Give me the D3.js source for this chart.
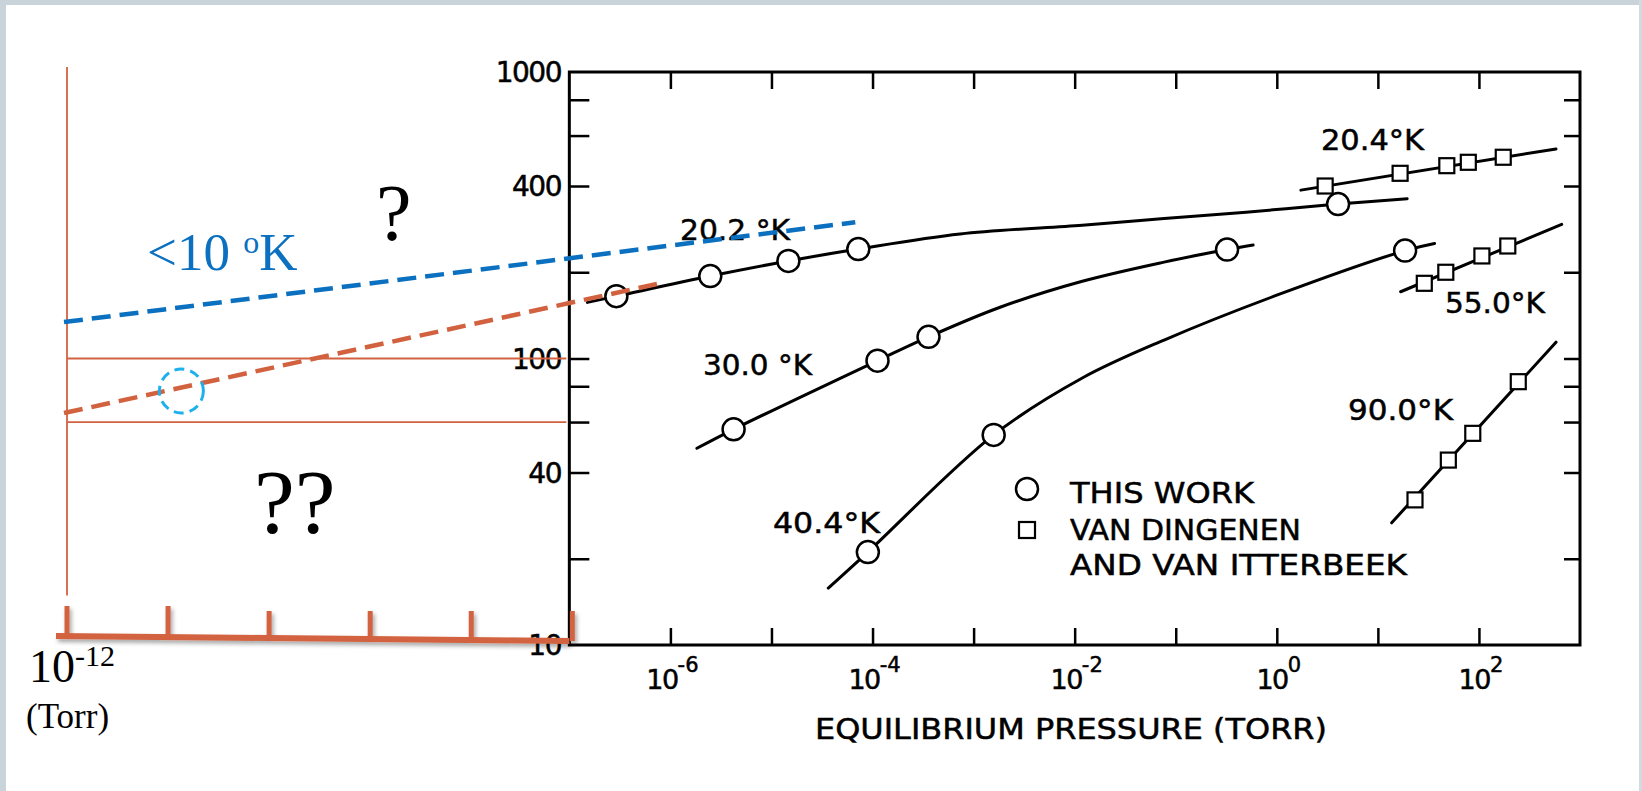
<!DOCTYPE html>
<html>
<head>
<meta charset="utf-8">
<script src="https://cdn.jsdelivr.net/npm/d3@7"></script>
<style>
body { margin: 0; background: #fff; }
svg { display: block; }
</style>
</head>
<body>
<svg id="chart"></svg>
<script>
// ---- data (pressure in torr, y value on the log axis) ----
var xTicks = [1e-6, 1e-5, 1e-4, 1e-3, 1e-2, 1e-1, 1, 10, 100];
var xLabelExp = [-6, -4, -2, 0, 2];
var yTicks = [20, 40, 60, 80, 100, 200, 400, 600, 800];
var yLabels = [1000, 400, 100, 40, 10];
var extTicks = [1e-12, 1e-11, 1e-10, 1e-9, 1e-8, 1e-7];

// 20.2 K, this work
var p202 = [1.51e-7, 2.92e-7, 2.48e-6, 1.47e-5, 7.23e-5, 7.36e-4, 1.19e-2, 7.67e-2, 0.497, 4.04, 19.5];
var v202 = [157, 165, 194, 219, 241, 272, 292, 308, 324, 346, 361];
var p202pts = [2.92e-7, 2.48e-6, 1.47e-5, 7.23e-5, 4.04];
var v202pts = [165, 194, 219, 241, 346];

// 30.0 K, this work
var p300 = [1.83e-6, 4.22e-6, 1.12e-4, 3.58e-4, 1.83e-3, 1.19e-2, 7.67e-2, 0.322, 0.583];
var v300 = [48.6, 56.6, 98.3, 119, 151, 186, 217, 240, 249];
var p300pts = [4.22e-6, 1.12e-4, 3.58e-4, 0.322];
var v300pts = [56.6, 98.3, 119, 240];

// 40.4 K, this work
var p404 = [3.65e-5, 8.99e-5, 1.58e-3, 1.19e-2, 7.67e-2, 1.08, 18.6, 36.4];
var v404 = [15.8, 21.1, 54.1, 85.5, 116, 168, 238, 252];
var p404pts = [8.99e-5, 1.58e-3, 18.6];
var v404pts = [21.1, 54.1, 238];

// Van Dingenen and Van Itterbeek
var p204 = [1.73, 579];
var v204 = [387, 539];
var p204pts = [3.01, 16.6, 48.1, 78.5, 174];
var v204pts = [400, 443, 471, 484, 504];

var p550 = [16.8, 659];
var v550 = [171, 294];
var p550pts = [28.8, 47.0, 107, 193];
var v550pts = [183, 200, 228, 247];

var p900 = [13.7, 579];
var v900 = [26.7, 114];
var p900pts = [23.3, 49.8, 86.9, 245];
var v900pts = [32.1, 44.2, 54.8, 83.0];

// annotations drawn over the scan
var blueDashP = [1e-12, 6.75e-5];
var blueDashV = [134, 299];
var redDashP = [1e-12, 7.36e-7];
var redDashV = [64.5, 182];
var bandV = [100, 60];
var noteP = 1.45e-11, noteV = 77;

var W = 1642, H = 791;
var orange = "#d2623f", blue = "#0a70bf", lightBlue = "#1cb0ec";
var scanFont = "'DejaVu Sans', sans-serif";
var serif = "'Liberation Serif', 'Times New Roman', serif";

var svg = d3.select("#chart").attr("width", W).attr("height", H);
svg.append("rect").attr("width", W).attr("height", H).attr("fill", "#fff");

var defs = svg.append("defs");
var f = defs.append("filter").attr("id", "shadow")
    .attr("x", "-5%").attr("y", "-50%").attr("width", "110%").attr("height", "200%");
f.append("feDropShadow").attr("dx", 2).attr("dy", 3).attr("stdDeviation", 2)
    .attr("flood-color", "#000").attr("flood-opacity", 0.35);

// slide frame
svg.append("rect").attr("x", 0).attr("y", 0).attr("width", W).attr("height", 5).attr("fill", "#c9d3da");
svg.append("rect").attr("x", 0).attr("y", 0).attr("width", 6).attr("height", H).attr("fill", "#c9d3da");
svg.append("rect").attr("x", 1639).attr("y", 0).attr("width", 3).attr("height", H).attr("fill", "#d3dbe0");

var x = d3.scaleLog().domain([1e-12, 1e3]).range([64, 1580]);
var y = d3.scaleLog().domain([10, 1000]).range([645, 72]);

var x0 = x(1e-7), x1 = x(1e3), yTop = y(1000), yBot = y(10);

// ---- scanned chart ----
var plot = svg.append("g");

plot.append("rect")
    .attr("x", x0).attr("y", yTop)
    .attr("width", x1 - x0).attr("height", yBot - yTop)
    .attr("fill", "none").attr("stroke", "#000").attr("stroke-width", 3);

function styleAxis(g) {
    g.select(".domain").remove();
    g.selectAll("line").attr("stroke", "#000").attr("stroke-width", 2.5);
}

plot.append("g").attr("transform", "translate(0," + yBot + ")")
    .call(d3.axisBottom(x).tickValues(xTicks).tickSize(-17).tickFormat(""))
    .call(styleAxis);
plot.append("g").attr("transform", "translate(0," + yTop + ")")
    .call(d3.axisTop(x).tickValues(xTicks).tickSize(-17).tickFormat(""))
    .call(styleAxis);
plot.append("g").attr("transform", "translate(" + x0 + ",0)")
    .call(d3.axisLeft(y).tickValues(yTicks).tickSize(-20).tickFormat(""))
    .call(styleAxis);
plot.append("g").attr("transform", "translate(" + x1 + ",0)")
    .call(d3.axisRight(y).tickValues(yTicks).tickSize(-16).tickFormat(""))
    .call(styleAxis);

// scanned lettering is a bit heavier than the font
function ink(sel) {
    sel.attr("stroke", "#000").attr("stroke-width", 0.5).attr("fill", "#000");
}

// y labels
plot.selectAll("text.ylab").data(yLabels).enter().append("text")
    .attr("class", "ylab")
    .attr("x", 561).attr("y", function(d) { return y(d) + 10; })
    .attr("text-anchor", "end")
    .attr("font-family", scanFont).attr("font-size", 28)
    .attr("letter-spacing", -1.5)
    .call(ink)
    .text(function(d) { return d; });

// x labels with exponent
var xl = plot.selectAll("text.xlab").data(xLabelExp).enter().append("text")
    .attr("class", "xlab")
    .attr("x", function(d) { return x(Math.pow(10, d)) + 2; })
    .attr("y", 689)
    .attr("text-anchor", "middle")
    .attr("font-family", scanFont).attr("font-size", 27)
    .call(ink);
xl.append("tspan").attr("letter-spacing", -1.5).text("10");
xl.append("tspan").attr("dy", -17).attr("font-size", 21)
    .text(function(d) { return d < 0 ? "-" + (-d) : d; });

plot.append("text")
    .attr("x", 815).attr("y", 739)
    .attr("font-family", scanFont).attr("font-size", 28)
    .attr("textLength", 512).attr("lengthAdjust", "spacingAndGlyphs")
    .call(ink)
    .text("EQUILIBRIUM  PRESSURE (TORR)");

var line = d3.line()
    .x(function(d) { return x(d[0]); })
    .y(function(d) { return y(d[1]); })
    .curve(d3.curveCatmullRom.alpha(0.5));

function zip(a, b) { return a.map(function(v, i) { return [v, b[i]]; }); }

var curves = [[p202, v202], [p300, v300], [p404, v404], [p204, v204], [p550, v550], [p900, v900]];
curves.forEach(function(c) {
    plot.append("path").datum(zip(c[0], c[1]))
        .attr("d", line)
        .attr("fill", "none").attr("stroke", "#000").attr("stroke-width", 3)
        .attr("stroke-linecap", "round");
});

var circleSets = [[p202pts, v202pts], [p300pts, v300pts], [p404pts, v404pts]];
circleSets.forEach(function(c) {
    plot.selectAll(null).data(zip(c[0], c[1])).enter().append("circle")
        .attr("cx", function(d) { return x(d[0]); })
        .attr("cy", function(d) { return y(d[1]); })
        .attr("r", 11)
        .attr("fill", "#fff").attr("stroke", "#000").attr("stroke-width", 2.5);
});

var squareSets = [[p204pts, v204pts], [p550pts, v550pts], [p900pts, v900pts]];
squareSets.forEach(function(c) {
    plot.selectAll(null).data(zip(c[0], c[1])).enter().append("rect")
        .attr("x", function(d) { return x(d[0]) - 7.5; })
        .attr("y", function(d) { return y(d[1]) - 7.5; })
        .attr("width", 15).attr("height", 15)
        .attr("fill", "#fff").attr("stroke", "#000").attr("stroke-width", 2.2);
});

// curve labels
var curveLabels = [
    {t: "20.2 \u00b0K", x: 680, y: 240, w: 110},
    {t: "30.0 \u00b0K", x: 703, y: 375, w: 109},
    {t: "40.4\u00b0K", x: 773, y: 533, w: 107},
    {t: "20.4\u00b0K", x: 1321, y: 150, w: 103},
    {t: "55.0\u00b0K", x: 1445, y: 313, w: 100},
    {t: "90.0\u00b0K", x: 1348, y: 420, w: 105}
];
plot.selectAll("text.clab").data(curveLabels).enter().append("text")
    .attr("class", "clab")
    .attr("x", function(d) { return d.x; })
    .attr("y", function(d) { return d.y; })
    .attr("font-family", scanFont).attr("font-size", 28)
    .attr("textLength", function(d) { return d.w; })
    .attr("lengthAdjust", "spacingAndGlyphs")
    .call(ink)
    .text(function(d) { return d.t; });

// legend
plot.append("circle").attr("cx", 1027).attr("cy", 489).attr("r", 11)
    .attr("fill", "#fff").attr("stroke", "#000").attr("stroke-width", 2.5);
plot.append("rect").attr("x", 1019).attr("y", 522).attr("width", 16).attr("height", 16)
    .attr("fill", "#fff").attr("stroke", "#000").attr("stroke-width", 2.2);
var legendText = [
    {t: "THIS WORK", y: 503, w: 184},
    {t: "VAN DINGENEN", y: 540, w: 231},
    {t: "AND VAN ITTERBEEK", y: 575, w: 337}
];
plot.selectAll("text.leg").data(legendText).enter().append("text")
    .attr("class", "leg")
    .attr("x", 1070).attr("y", function(d) { return d.y; })
    .attr("font-family", scanFont).attr("font-size", 28)
    .attr("textLength", function(d) { return d.w; })
    .attr("lengthAdjust", "spacingAndGlyphs")
    .call(ink)
    .text(function(d) { return d.t; });

// ---- hand-drawn extension to 1e-12 torr ----
var ext = svg.append("g");
var xe = x(1e-12);

ext.append("line")
    .attr("x1", xe + 3).attr("x2", xe + 3)
    .attr("y1", y(1040)).attr("y2", y(14.9))
    .attr("stroke", orange).attr("stroke-width", 1.8);

ext.selectAll("line.band").data(bandV).enter().append("line")
    .attr("class", "band")
    .attr("x1", xe + 3).attr("x2", x0 - 3)
    .attr("y1", function(d) { return y(d); })
    .attr("y2", function(d) { return y(d); })
    .attr("stroke", orange).attr("stroke-width", 1.8);

// thick axis with ticks
var axL = 636, axR = 641;
function axY(px) { return axL + (axR - axL) * (px - (xe - 8)) / (x0 - (xe - 8)); }
var bar = ext.append("g").attr("filter", "url(#shadow)");
bar.append("line")
    .attr("x1", xe - 8).attr("y1", axL).attr("x2", x0).attr("y2", axR)
    .attr("stroke", orange).attr("stroke-width", 6);
bar.selectAll("line.et").data(extTicks).enter().append("line")
    .attr("class", "et")
    .attr("x1", function(d) { return x(d) + 3; })
    .attr("x2", function(d) { return x(d) + 3; })
    .attr("y1", function(d) { return axY(x(d)); })
    .attr("y2", function(d, i) { return i < 2 ? 606 : 611; })
    .attr("stroke", orange).attr("stroke-width", 5);

// dashed extrapolations
var straight = d3.line()
    .x(function(d) { return x(d[0]); })
    .y(function(d) { return y(d[1]); });
ext.append("path").datum(zip(blueDashP, blueDashV))
    .attr("d", straight)
    .attr("stroke", blue).attr("stroke-width", 4.5)
    .attr("stroke-dasharray", "19,9").attr("fill", "none");
ext.append("path").datum(zip(redDashP, redDashV))
    .attr("d", straight)
    .attr("stroke", orange).attr("stroke-width", 4.5)
    .attr("stroke-dasharray", "19,9").attr("fill", "none");

ext.append("circle")
    .attr("cx", x(noteP)).attr("cy", y(noteV)).attr("r", 22)
    .attr("fill", "none").attr("stroke", lightBlue).attr("stroke-width", 3)
    .attr("stroke-dasharray", "10,6");

// texts
var t1 = ext.append("text").attr("x", 147).attr("y", 270)
    .attr("font-family", serif).attr("font-size", 53).attr("fill", blue);
t1.append("tspan").text("<10 ");
t1.append("tspan").attr("dy", -17).attr("font-size", 32).text("o");
t1.append("tspan").attr("dy", 17).text("K");

ext.append("text").attr("x", 376).attr("y", 240)
    .attr("font-family", serif).attr("font-size", 80).text("?");
ext.append("text").attr("x", 254).attr("y", 533)
    .attr("font-family", serif).attr("font-size", 92).text("??");

var t2 = ext.append("text").attr("x", 29).attr("y", 682)
    .attr("font-family", serif).attr("font-size", 46);
t2.append("tspan").text("10");
t2.append("tspan").attr("dy", -16).attr("font-size", 30).text("-12");

ext.append("text").attr("x", 26).attr("y", 728)
    .attr("font-family", serif).attr("font-size", 35).text("(Torr)");
</script>
</body>
</html>
